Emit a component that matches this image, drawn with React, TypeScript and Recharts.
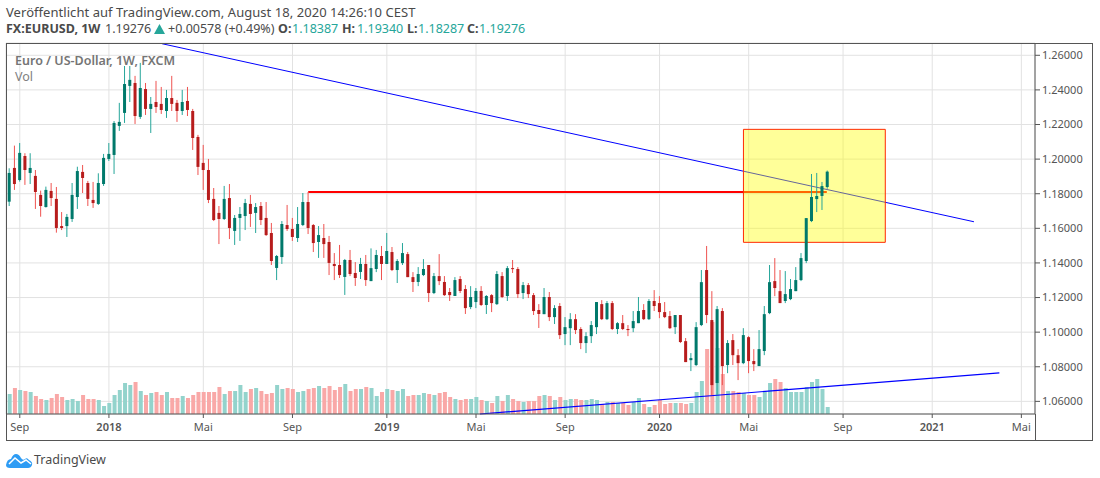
import { Bar, CartesianGrid, Cell, ComposedChart, ReferenceArea, ReferenceLine, XAxis, YAxis } from 'recharts';

// weekly EUR/USD candles, index 0 = week of Aug 21 2017
const opens = [
  1.1754, 1.1949, 1.1879, 1.2018, 1.1920, 1.1903, 1.1793, 1.1723, 1.1816, 1.1770,
  1.1613, 1.1613, 1.1654, 1.1781, 1.1926, 1.1862, 1.1764, 1.1741, 1.1856, 1.2001,
  1.2024, 1.2192, 1.2267, 1.2423, 1.2440, 1.2244, 1.2405, 1.2290, 1.2330, 1.2319,
  1.2278, 1.2353, 1.2325, 1.2278, 1.2336, 1.2278, 1.2128, 1.1978, 1.1937, 1.1770,
  1.1689, 1.1654, 1.1775, 1.1585, 1.1660, 1.1671, 1.1741, 1.1689, 1.1729, 1.1660,
  1.1573, 1.1371, 1.1434, 1.1619, 1.1596, 1.1544, 1.1619, 1.1752, 1.1619, 1.1521,
  1.1544, 1.1521, 1.1394, 1.1388, 1.1319, 1.1417, 1.1342, 1.1348, 1.1394, 1.1295,
  1.1365, 1.1440, 1.1394, 1.1463, 1.1359, 1.1399, 1.1451, 1.1318, 1.1290, 1.1330,
  1.1388, 1.1226, 1.1324, 1.1290, 1.1232, 1.1209, 1.1307, 1.1249, 1.1145, 1.1174,
  1.1238, 1.1157, 1.1214, 1.1162, 1.1324, 1.1209, 1.1370, 1.1365, 1.1226, 1.1272,
  1.1214, 1.1128, 1.1104, 1.1203, 1.1087, 1.1151, 1.0989, 1.1023, 1.1075, 1.1018,
  1.0937, 1.0977, 1.1029, 1.1162, 1.1075, 1.1168, 1.1018, 1.1052, 1.1018, 1.1023,
  1.1052, 1.1128, 1.1075, 1.1180, 1.1168, 1.1116, 1.1093, 1.1029, 1.1099, 1.0948,
  1.0838, 1.0810, 1.1041, 1.1359, 1.1070, 1.0706, 1.1122, 1.0810, 1.0954, 1.0867,
  1.0821, 1.0971, 1.0833, 1.0804, 1.0891, 1.1110, 1.1295, 1.1237, 1.1180, 1.1191,
  1.1237, 1.1301, 1.1411, 1.1642, 1.1769, 1.1787, 1.18387,
];
const highs = [
  1.1947, 1.2078, 1.2093, 1.2034, 1.2034, 1.1937, 1.1818, 1.1841, 1.1862, 1.1839,
  1.1694, 1.1683, 1.1862, 1.1956, 1.1966, 1.1874, 1.1868, 1.1918, 1.2030, 1.2093,
  1.2220, 1.2325, 1.2538, 1.2538, 1.2481, 1.2556, 1.2440, 1.2359, 1.2452, 1.2417,
  1.2400, 1.2481, 1.2342, 1.2400, 1.2417, 1.2290, 1.2140, 1.2082, 1.2001, 1.1833,
  1.1729, 1.1845, 1.1856, 1.1677, 1.1723, 1.1770, 1.1793, 1.1746, 1.1752, 1.1752,
  1.1631, 1.1446, 1.1642, 1.1735, 1.1660, 1.1723, 1.1804, 1.1810, 1.1625, 1.1613,
  1.1625, 1.1556, 1.1457, 1.1504, 1.1423, 1.1475, 1.1405, 1.1429, 1.1446, 1.1484,
  1.1475, 1.1498, 1.1573, 1.1492, 1.1422, 1.1515, 1.1463, 1.1347, 1.1376, 1.1422,
  1.1388, 1.1342, 1.1451, 1.1324, 1.1255, 1.1318, 1.1324, 1.1272, 1.1266, 1.1255,
  1.1266, 1.1214, 1.1220, 1.1353, 1.1347, 1.1382, 1.1417, 1.1376, 1.1290, 1.1284,
  1.1226, 1.1162, 1.1255, 1.1232, 1.1156, 1.1168, 1.1087, 1.1110, 1.1104, 1.1029,
  1.1000, 1.1064, 1.1174, 1.1185, 1.1180, 1.1180, 1.1058, 1.1099, 1.1041, 1.1122,
  1.1203, 1.1162, 1.1191, 1.1243, 1.1208, 1.1174, 1.1122, 1.1099, 1.1099, 1.0966,
  1.0879, 1.1058, 1.1359, 1.1498, 1.1237, 1.1151, 1.1139, 1.0954, 1.0989, 1.0902,
  1.1023, 1.0977, 1.0902, 1.1012, 1.1151, 1.1388, 1.1428, 1.1359, 1.1353, 1.1307,
  1.1376, 1.1457, 1.1659, 1.1914, 1.1920, 1.1868, 1.1934,
];
const lows = [
  1.1729, 1.1822, 1.1870, 1.1851, 1.1856, 1.1712, 1.1667, 1.1720, 1.1729, 1.1575,
  1.1590, 1.1550, 1.1637, 1.1712, 1.1804, 1.1729, 1.1718, 1.1735, 1.1845, 1.1989,
  1.1914, 1.2163, 1.2209, 1.2330, 1.2203, 1.2232, 1.2255, 1.2151, 1.2267, 1.2261,
  1.2238, 1.2278, 1.2215, 1.2255, 1.2249, 1.2053, 1.1908, 1.1822, 1.1746, 1.1642,
  1.1509, 1.1648, 1.1538, 1.1504, 1.1527, 1.1590, 1.1608, 1.1573, 1.1619, 1.1556,
  1.1388, 1.1301, 1.1394, 1.1585, 1.1527, 1.1521, 1.1613, 1.1567, 1.1463, 1.1429,
  1.1429, 1.1330, 1.1301, 1.1313, 1.1215, 1.1324, 1.1267, 1.1307, 1.1267, 1.1295,
  1.1347, 1.1301, 1.1394, 1.1353, 1.1284, 1.1388, 1.1318, 1.1232, 1.1266, 1.1324,
  1.1174, 1.1220, 1.1272, 1.1209, 1.1180, 1.1209, 1.1226, 1.1105, 1.1133, 1.1139,
  1.1151, 1.1105, 1.1116, 1.1157, 1.1197, 1.1180, 1.1342, 1.1197, 1.1191, 1.1197,
  1.1099, 1.1024, 1.1104, 1.1064, 1.1047, 1.0960, 1.0925, 1.0925, 1.0989, 1.0902,
  1.0879, 1.0937, 1.0989, 1.1070, 1.1070, 1.1012, 1.0989, 1.1012, 1.0977, 1.1000,
  1.1052, 1.1070, 1.1070, 1.1122, 1.1081, 1.1081, 1.1018, 1.0989, 1.0937, 1.0827,
  1.0775, 1.0804, 1.1035, 1.1052, 1.0636, 1.0636, 1.0694, 1.0763, 1.0810, 1.0723,
  1.0815, 1.0763, 1.0775, 1.0804, 1.0867, 1.1104, 1.1208, 1.1168, 1.1168, 1.1185,
  1.1237, 1.1295, 1.1399, 1.1636, 1.1694, 1.1706, 1.18287,
];
const closes = [
  1.1920, 1.1856, 1.2036, 1.1937, 1.1949, 1.1810, 1.1729, 1.1822, 1.1775, 1.1602,
  1.1602, 1.1666, 1.1793, 1.1931, 1.1891, 1.1770, 1.1746, 1.1862, 1.2007, 1.2030,
  1.2209, 1.2215, 1.2434, 1.2458, 1.2249, 1.2411, 1.2290, 1.2319, 1.2301, 1.2284,
  1.2353, 1.2319, 1.2278, 1.2330, 1.2284, 1.2122, 1.1955, 1.1937, 1.1764, 1.1648,
  1.1654, 1.1770, 1.1602, 1.1660, 1.1683, 1.1746, 1.1683, 1.1723, 1.1648, 1.1561,
  1.1411, 1.1440, 1.1625, 1.1596, 1.1550, 1.1625, 1.1752, 1.1602, 1.1515, 1.1561,
  1.1509, 1.1400, 1.1382, 1.1330, 1.1417, 1.1336, 1.1313, 1.1394, 1.1301, 1.1370,
  1.1446, 1.1394, 1.1469, 1.1359, 1.1411, 1.1457, 1.1318, 1.1290, 1.1336, 1.1365,
  1.1226, 1.1324, 1.1295, 1.1214, 1.1214, 1.1301, 1.1238, 1.1139, 1.1203, 1.1238,
  1.1157, 1.1209, 1.1168, 1.1336, 1.1203, 1.1370, 1.1365, 1.1220, 1.1272, 1.1220,
  1.1122, 1.1105, 1.1203, 1.1087, 1.1139, 1.0983, 1.1029, 1.1075, 1.1012, 1.0937,
  1.0977, 1.1041, 1.1174, 1.1075, 1.1168, 1.1018, 1.1052, 1.1018, 1.1012, 1.1064,
  1.1122, 1.1075, 1.1180, 1.1151, 1.1116, 1.1087, 1.1023, 1.1099, 1.0943, 1.0827,
  1.0850, 1.1029, 1.1289, 1.1099, 1.0694, 1.1133, 1.0804, 1.0937, 1.0867, 1.0821,
  1.0983, 1.0833, 1.0815, 1.0902, 1.1104, 1.1289, 1.1255, 1.1168, 1.1220, 1.1249,
  1.1301, 1.1428, 1.1659, 1.1781, 1.1787, 1.1844, 1.19276,
];
const volumes = [
  20, 26, 24, 23, 22, 18, 15, 14, 16, 20,
  17, 14, 15, 13, 19, 15, 15, 14, 8, 11,
  19, 24, 31, 29, 32, 23, 19, 21, 22, 19,
  22, 16, 16, 18, 16, 19, 22, 22, 22, 22,
  27, 20, 23, 23, 29, 22, 25, 26, 23, 20,
  21, 29, 25, 26, 25, 22, 23, 25, 26, 28,
  26, 28, 24, 27, 30, 23, 25, 25, 27, 26,
  18, 22, 25, 24, 23, 25, 18, 19, 19, 21,
  20, 19, 21, 22, 17, 15, 14, 15, 15, 17,
  14, 13, 11, 18, 13, 19, 15, 13, 12, 13,
  13, 18, 19, 18, 14, 17, 14, 15, 15, 14,
  14, 15, 14, 10, 12, 12, 11, 11, 9, 12,
  16, 10, 7, 9, 14, 10, 11, 11, 11, 10,
  11, 22, 33, 65, 92, 66, 40, 23, 23, 22,
  21, 19, 19, 17, 22, 31, 35, 32, 26, 22,
  22, 22, 27, 32, 35, 25, 7,
];

const timeTicks = [2, 19, 37, 54, 72, 89, 106, 124, 141, 159, 176, 193];
const timeLabels = ['Sep', '2018', 'Mai', 'Sep', '2019', 'Mai', 'Sep', '2020', 'Mai', 'Sep', '2021', 'Mai'];
const priceTicks = [1.06, 1.08, 1.1, 1.12, 1.14, 1.16, 1.18, 1.2, 1.22, 1.24, 1.26];

const UP = '#00796b';
const DOWN = '#b71c1c';
const UP_WICK = '#26a69a';
const DOWN_WICK = '#ef5350';
const UP_VOL = '#93d3cc';
const DOWN_VOL = '#f9a8a7';
const AXIS = '#555555';
const GRID = '#e2e2e2';
const TEXT = '#4a4a4a';
const FONT = 'Noto Sans';
const timeDomain = [-0.63, 195.6];

const data = opens.map((open, i) => ({
  i,
  open,
  high: highs[i],
  low: lows[i],
  close: closes[i],
  range: [lows[i], highs[i]],
  volume: volumes[i],
}));

function Candle(props: any) {
  const { x, y, width, height, payload } = props;
  const { open, high, low, close } = payload;
  const up = close >= open;
  const perUnit = height / (high - low);
  const top = y + (high - Math.max(open, close)) * perUnit;
  const bodyH = Math.max(Math.abs(open - close) * perUnit, 1);
  const mid = x + width / 2;
  return (
    <g>
      <line x1={mid} x2={mid} y1={y} y2={y + height} stroke={up ? UP_WICK : DOWN_WICK} strokeWidth={1} />
      <rect x={x} y={top} width={width} height={bodyH} fill={up ? UP : DOWN} />
    </g>
  );
}

function TimeTick(props: any) {
  const { x, y, payload } = props;
  const label = timeLabels[timeTicks.indexOf(payload.value)];
  const isYear = label.length === 4;
  return (
    <text x={x} y={y + 11} textAnchor="middle" fontSize={11} fontFamily={FONT} fontWeight={isYear ? 600 : 400} fill={AXIS}>
      {label}
    </text>
  );
}

const textBase = { position: 'absolute' as const, fontFamily: FONT, whiteSpace: 'nowrap' as const };

// the header pieces sit at fixed places like in the screenshot
function Head({ left, color = TEXT, bold, children }: any) {
  return (
    <span style={{ ...textBase, left, top: 20, fontSize: 12.5, color, fontWeight: bold ? 700 : 400 }}>{children}</span>
  );
}

export default function App() {
  return (
    <div style={{ position: 'absolute', left: 0, top: 0, width: 1100, height: 478, background: '#fff', overflow: 'hidden' }}>
      <ComposedChart
        width={1100}
        height={478}
        data={data}
        margin={{ top: 43, right: 0, bottom: 0, left: 6 }}
      >
        <CartesianGrid stroke={GRID} yAxisId="price" />
        <XAxis
          dataKey="i"
          type="number"
          domain={timeDomain}
          ticks={timeTicks}
          tick={<TimeTick />}
          height={64}
          interval={0}
          allowDataOverflow
          stroke={AXIS}
          tickSize={4}
        />
        <XAxis xAxisId="volTime" dataKey="i" type="number" domain={timeDomain} allowDataOverflow hide height={64} />
        <YAxis
          yAxisId="price"
          orientation="right"
          domain={[1.0527, 1.2671]}
          ticks={priceTicks}
          width={65}
          interval={0}
          allowDataOverflow
          stroke={AXIS}
          tickSize={5}
          tickFormatter={(v: number) => v.toFixed(5)}
          tick={{ fontSize: 11, fontFamily: FONT, fill: AXIS }}
        />
        <YAxis yAxisId="vol" hide domain={[0, 371]} />
        <Bar dataKey="volume" xAxisId="volTime" yAxisId="vol" barSize={4} isAnimationActive={false}>
          {data.map((d) => (
            <Cell key={d.i} fill={d.close >= d.open ? UP_VOL : DOWN_VOL} />
          ))}
        </Bar>
        <ReferenceLine yAxisId="price" segment={[{ x: 29.12, y: 1.2667 }, { x: 183.96, y: 1.1638 }]} stroke="#0000ff" strokeWidth={1} />
        <ReferenceLine yAxisId="price" segment={[{ x: 89.76, y: 1.0527 }, { x: 188.8, y: 1.0765 }]} stroke="#0000ff" strokeWidth={1.2} />
        <ReferenceLine yAxisId="price" segment={[{ x: 57, y: 1.181 }, { x: 155.9, y: 1.181 }]} stroke="#ff0000" strokeWidth={2} />
        <ReferenceArea
          yAxisId="price"
          x1={140}
          x2={167.05}
          y1={1.1519}
          y2={1.2172}
          fill="#ffff00"
          fillOpacity={0.4}
          stroke="#ff2a00"
          strokeOpacity={1}
          strokeWidth={1}
          zIndex={450}
        />
        <Bar dataKey="range" yAxisId="price" barSize={3} shape={<Candle />} isAnimationActive={false} zIndex={500} />
      </ComposedChart>

      {/* outer frame of the screenshot */}
      <div style={{ position: 'absolute', left: 6, top: 43, width: 1087, height: 398, border: `1px solid ${AXIS}`, boxSizing: 'border-box', pointerEvents: 'none' }} />
      <div style={{ position: 'absolute', left: 1035, top: 414, width: 1, height: 27, background: AXIS }} />

      <div style={{ ...textBase, left: 6, top: 3, fontSize: 13, color: TEXT, letterSpacing: 0.05 }}>
        Veröffentlicht auf TradingView.com, August 18, 2020 14:26:10 CEST
      </div>
      <Head left={6} bold>FX:EURUSD, 1W</Head>
      <Head left={105}>1.19276</Head>
      <svg style={{ position: 'absolute', left: 154, top: 24 }} width={11} height={10}>
        <polygon points="5.5,0 11,10 0,10" fill="#26a69a" />
      </svg>
      <Head left={168}>+0.00578 (+0.49%)</Head>
      <Head left={278} bold>O:</Head>
      <Head left={292} color="#26a69a">1.18387</Head>
      <Head left={342} bold>H:</Head>
      <Head left={357} color="#26a69a">1.19340</Head>
      <Head left={407} bold>L:</Head>
      <Head left={418} color="#26a69a">1.18287</Head>
      <Head left={467} bold>C:</Head>
      <Head left={479} color="#26a69a">1.19276</Head>

      <div style={{ ...textBase, left: 15, top: 52, fontSize: 12.5, fontWeight: 600, color: '#757575' }}>Euro / US-Dollar, 1W, FXCM</div>
      <div style={{ ...textBase, left: 15, top: 68, fontSize: 12.5, color: '#808080' }}>Vol</div>

      <svg style={{ position: 'absolute', left: 6, top: 451 }} width={27} height={17} viewBox="0 0 27 17">
        <path d="M0 14 Q1 8 5 8 Q7 3 10 3 Q13 3 15 7 Q17 10 19 8 Q21 6 23 9 Q27 11 26 14 Q25 17 22 17 L4 17 Q0 17 0 14 Z" fill="#2e9cf4" />
        <path d="M3 13 L9 7 L15 12 L20 9 L25 13" fill="none" stroke="#ffffff" strokeWidth={1.5} />
      </svg>
      <div style={{ ...textBase, left: 34, top: 451, fontSize: 12.5, color: TEXT }}>TradingView</div>
    </div>
  );
}
